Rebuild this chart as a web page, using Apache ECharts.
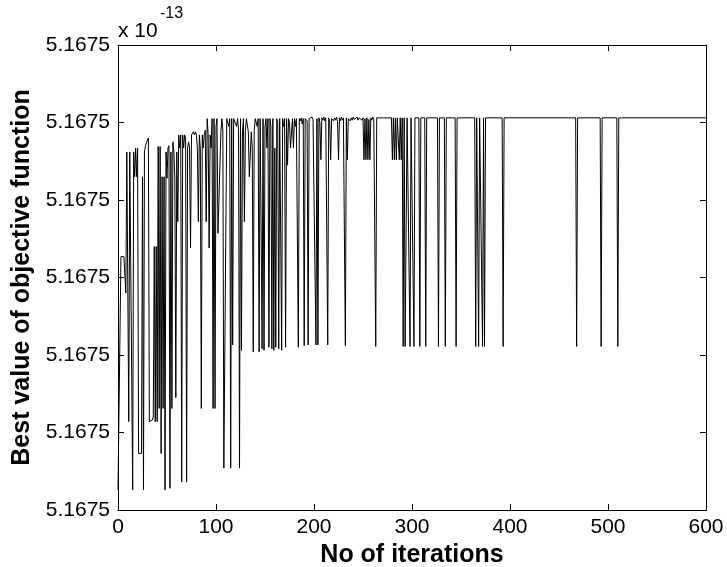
<!DOCTYPE html>
<html>
<head>
<meta charset="utf-8">
<script src="https://cdn.jsdelivr.net/npm/echarts@6/dist/echarts.min.js"></script>
<style>
  html, body { margin: 0; padding: 0; background: #ffffff; }
  #chart { width: 727px; height: 567px; }
</style>
</head>
<body>
<div id="chart"></div>
<script>
// Best objective value per iteration, stored as the offset above 5.1675e-13
// in axis units (one unit per tick step). Iterations 0..272, one value each.
const bestValueEarly = [
  0.26, 0.26, 0.26, 3.27, 3.27, 3.27, 3.27, 3.27, 2.80, 4.62,
  4.62, 1.14, 4.62, 4.62, 4.62, 0.26, 4.62, 4.30, 4.67, 4.30,
  4.67, 0.73, 0.73, 0.73, 0.73, 4.30, 0.26, 4.62, 4.70, 4.74,
  4.74, 4.80, 1.14, 1.14, 1.14, 1.16, 1.20, 3.40, 1.14, 3.40,
  1.14, 4.69, 1.31, 4.69, 0.73, 4.30, 1.31, 4.30, 0.26, 4.62,
  4.28, 4.67, 4.70, 0.28, 4.62, 1.31, 4.75, 4.62, 4.28, 1.45,
  4.62, 3.72, 4.84, 4.67, 4.84, 0.36, 4.84, 4.67, 4.84, 4.80,
  0.36, 4.67, 4.75, 4.67, 3.38, 4.84, 4.84, 4.88, 4.84, 4.88,
  4.84, 4.67, 3.72, 4.84, 4.67, 1.31, 4.84, 4.67, 4.84, 4.90,
  3.72, 5.05, 4.84, 3.38, 4.84, 4.67, 5.05, 1.31, 5.05, 1.31,
  4.95, 5.05, 3.57, 3.57, 3.57, 4.88, 5.05, 4.90, 0.54, 0.54,
  0.54, 5.05, 5.05, 4.95, 5.05, 0.54, 5.05, 2.13, 5.05, 5.05,
  5.05, 4.95, 5.05, 4.90, 0.54, 5.05, 2.06, 4.88, 5.05, 3.72,
  4.90, 5.05, 5.05, 4.88, 4.30, 4.30, 4.88, 4.68, 2.04, 4.90,
  5.05, 5.05, 4.95, 5.05, 2.04, 5.05, 3.72, 2.08, 5.05, 2.06,
  4.95, 5.05, 4.67, 5.05, 2.10, 5.05, 4.95, 2.08, 5.05, 2.06,
  4.67, 2.10, 5.05, 5.00, 2.08, 5.05, 5.05, 2.06, 5.05, 4.95,
  5.05, 2.10, 5.05, 4.45, 5.05, 5.00, 4.67, 4.67, 5.05, 4.67,
  5.05, 4.95, 5.05, 5.06, 2.10, 5.05, 5.02, 5.06, 4.98, 5.05,
  2.12, 5.05, 5.06, 5.02, 2.13, 5.05, 5.06, 5.03, 5.07, 5.04,
  5.06, 5.02, 2.13, 5.05, 2.13, 5.06, 5.00, 4.52, 5.06, 5.03,
  5.07, 5.02, 5.06, 5.04, 2.13, 5.06, 5.00, 4.52, 5.05, 5.07,
  5.02, 5.06, 5.03, 5.07, 5.01, 4.52, 5.06, 5.02, 5.07, 5.03,
  5.06, 5.04, 2.12, 5.06, 4.52, 5.05, 5.07, 5.02, 5.06, 5.03,
  5.07, 5.04, 5.06, 5.02, 5.07, 5.03, 5.06, 5.05, 5.07, 5.03,
  5.06, 4.52, 5.05, 4.52, 5.06, 4.52, 5.04, 4.52, 5.06, 5.03,
  5.07, 5.04, 5.06, 2.11, 5.06, 5.05, 5.07, 5.06, 5.05, 5.06,
  5.06, 5.06, 5.06
];

// After iteration 272 the value sits on its plateau; only the points
// where it leaves the plateau are listed.
const lateIterations = [
  279, 280, 281, 282, 283, 284, 285, 286, 287, 288, 289, 290,
  291, 292, 293, 294, 295, 297, 298, 299, 301, 302, 303,
  307, 308, 309, 313, 314, 315, 326, 327, 328, 333, 334, 335,
  344, 345, 346, 364, 365, 366, 367, 368, 369, 371, 372, 373, 374, 375,
  392, 393, 394, 467, 468, 469, 492, 493, 494, 509, 510, 511, 600
];
const lateValues = [
  5.06, 4.52, 5.06, 4.52, 5.06, 4.52, 5.06, 5.06, 4.52, 5.06, 4.52, 5.06,
  2.11, 5.06, 2.11, 2.11, 5.06, 5.06, 2.11, 5.06, 5.06, 2.11, 5.06,
  5.06, 2.11, 5.06, 5.06, 2.11, 5.06, 5.06, 2.11, 5.06, 5.06, 2.11, 5.06,
  5.06, 2.11, 5.06, 5.06, 2.11, 5.06, 5.06, 2.11, 5.06, 5.06, 2.11, 5.06, 2.11, 5.06,
  5.06, 2.11, 5.06, 5.06, 2.11, 5.06, 5.06, 2.11, 5.06, 5.06, 2.11, 5.06, 5.06
];

const xTickValues = [0, 100, 200, 300, 400, 500, 600];
const yTickLabel = '5.1675';
const yTickCount = 6;

const seriesData = bestValueEarly.map((v, i) => [i, v])
  .concat(lateIterations.map((it, i) => [it, lateValues[i]]));

const FONT = '"Liberation Sans", Arial, Helvetica, sans-serif';

const chart = echarts.init(document.getElementById('chart'), null, { renderer: 'canvas' });

// Box frame: every side carries a line and inward ticks.
function frameAxis(extra) {
  return Object.assign({
    axisLine: { show: true, onZero: false, lineStyle: { color: '#000', width: 1 } },
    axisTick: { show: true, inside: true, length: 6, lineStyle: { color: '#000', width: 1 } },
    splitLine: { show: false }
  }, extra);
}

chart.setOption({
  animation: false,
  backgroundColor: '#ffffff',
  grid: { left: 118, right: 21, top: 45, bottom: 57, containLabel: false, outerBoundsMode: 'none' },
  xAxis: [
    frameAxis({
      type: 'value', min: xTickValues[0], max: xTickValues[xTickValues.length - 1],
      interval: 100, position: 'bottom',
      name: 'No of iterations', nameLocation: 'middle', nameGap: 27,
      nameTextStyle: { fontFamily: FONT, fontWeight: 'bold', fontSize: 25, color: '#000' },
      axisLabel: { show: true, fontFamily: FONT, fontSize: 21, color: '#000', margin: 7 }
    }),
    frameAxis({
      type: 'value', min: 0, max: 600, interval: 100, position: 'top',
      axisLabel: { show: false }
    })
  ],
  yAxis: [
    frameAxis({
      type: 'value', min: 0, max: yTickCount, interval: 1, position: 'left',
      name: 'Best value of objective function', nameLocation: 'middle', nameGap: 78,
      nameRotate: 90,
      nameTextStyle: { fontFamily: FONT, fontWeight: 'bold', fontSize: 25, color: '#000' },
      axisLabel: { show: true, fontFamily: FONT, fontSize: 21, color: '#000', margin: 8,
                   formatter: () => yTickLabel }
    }),
    frameAxis({
      type: 'value', min: 0, max: yTickCount, interval: 1, position: 'right',
      axisLabel: { show: false }
    })
  ],
  graphic: [
    {
      type: 'text', left: 118, top: 21,
      style: { text: 'x 10', font: '21px ' + FONT, fill: '#000' }
    },
    {
      type: 'text', left: 160, top: 6,
      style: { text: '-13', font: '16px ' + FONT, fill: '#000' }
    }
  ],
  series: [{
    type: 'line',
    xAxisIndex: 0, yAxisIndex: 0,
    data: seriesData,
    showSymbol: false,
    symbol: 'none',
    lineStyle: { color: '#000', width: 1 },
    z: 1
  }]
});
</script>
</body>
</html>
